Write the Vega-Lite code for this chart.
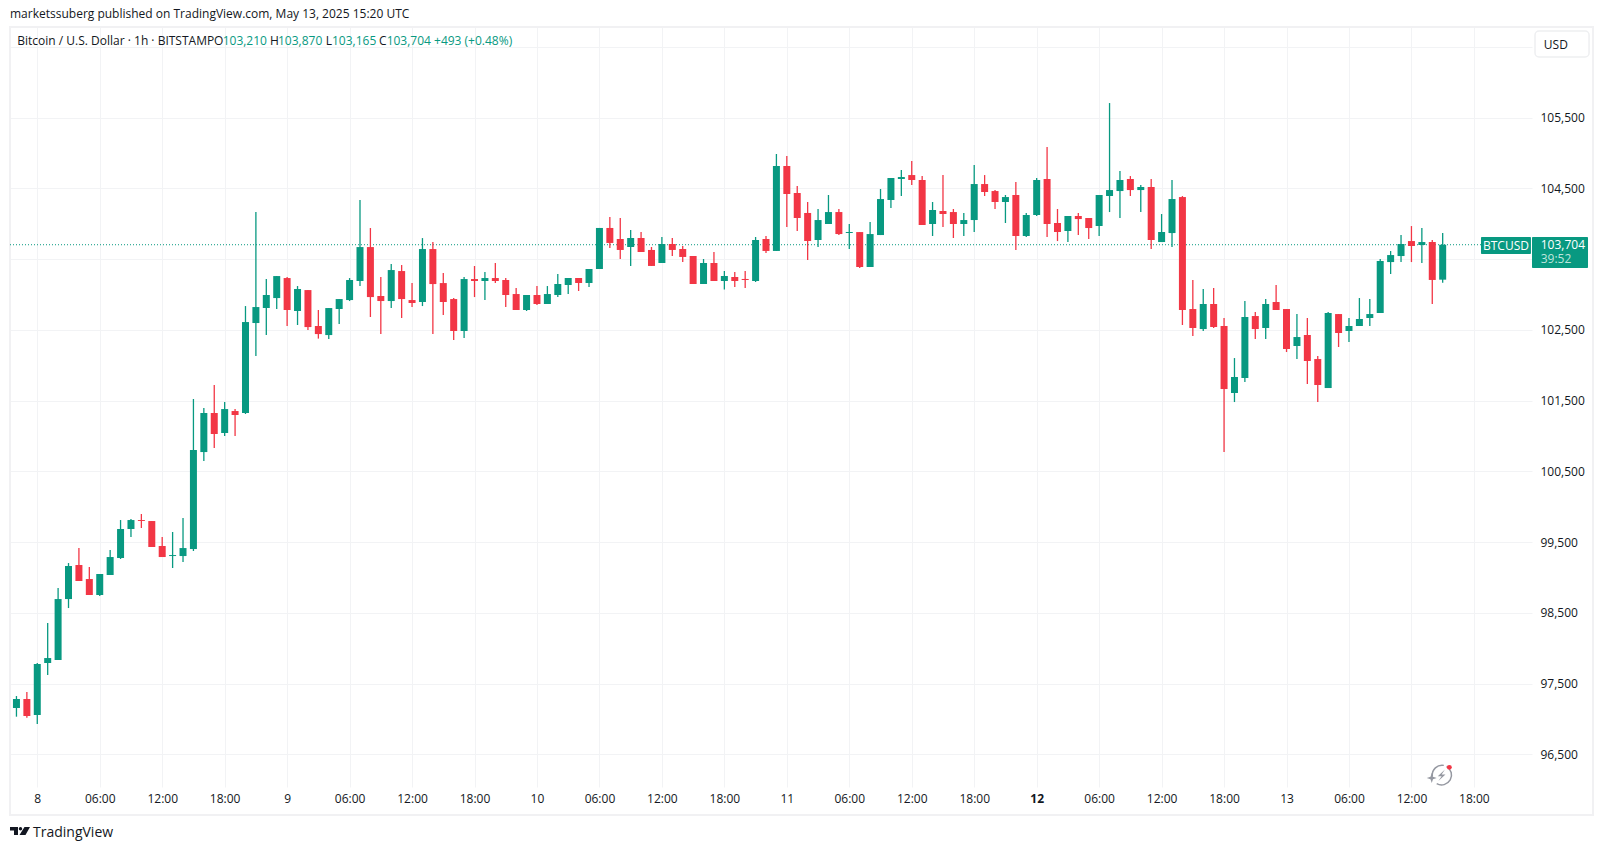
{
  "$schema": "https://vega.github.io/schema/vega-lite/v6.json",
  "background": "#ffffff",
  "width": 1522,
  "height": 760,
  "autosize": "none",
  "padding": {"left": 10, "top": 27, "right": 71, "bottom": 63},
  "config": {"view": {"stroke": null}, "text": {"font": "Open Sans", "fontSize": 12, "color": "#131722"}},
  "datasets": {
    "candles": [
      {"hour":-2,"o":97155,"h":97324,"l":97032,"c":97282},
      {"hour":-1,"o":97282,"h":97381,"l":97018,"c":97042},
      {"hour":0,"o":97056,"h":97791,"l":96928,"c":97777},
      {"hour":1,"o":97791,"h":98356,"l":97621,"c":97861},
      {"hour":2,"o":97833,"h":98851,"l":97833,"c":98695},
      {"hour":3,"o":98695,"h":99204,"l":98568,"c":99162},
      {"hour":4,"o":99176,"h":99416,"l":98950,"c":98950},
      {"hour":5,"o":98978,"h":99148,"l":98752,"c":98752},
      {"hour":6,"o":98752,"h":99049,"l":98738,"c":99049},
      {"hour":7,"o":99035,"h":99388,"l":99035,"c":99289},
      {"hour":8,"o":99275,"h":99812,"l":99261,"c":99685},
      {"hour":9,"o":99685,"h":99826,"l":99572,"c":99812},
      {"hour":10,"o":99812,"h":99897,"l":99699,"c":99798},
      {"hour":11,"o":99798,"h":99798,"l":99431,"c":99431},
      {"hour":12,"o":99445,"h":99572,"l":99289,"c":99289},
      {"hour":13,"o":99303,"h":99643,"l":99134,"c":99317},
      {"hour":14,"o":99303,"h":99840,"l":99218,"c":99416},
      {"hour":15,"o":99402,"h":101523,"l":99374,"c":100802},
      {"hour":16,"o":100773,"h":101395,"l":100646,"c":101325},
      {"hour":17,"o":101325,"h":101721,"l":100830,"c":101028},
      {"hour":18,"o":101042,"h":101480,"l":101000,"c":101381},
      {"hour":19,"o":101353,"h":101381,"l":101000,"c":101297},
      {"hour":20,"o":101325,"h":102837,"l":101311,"c":102611},
      {"hour":21,"o":102597,"h":104166,"l":102131,"c":102823},
      {"hour":22,"o":102809,"h":103219,"l":102427,"c":102993},
      {"hour":23,"o":102950,"h":103261,"l":102795,"c":103261},
      {"hour":24,"o":103233,"h":103247,"l":102555,"c":102781},
      {"hour":25,"o":102767,"h":103120,"l":102569,"c":103078},
      {"hour":26,"o":103063,"h":103063,"l":102498,"c":102540},
      {"hour":27,"o":102555,"h":102781,"l":102377,"c":102441},
      {"hour":28,"o":102427,"h":102809,"l":102371,"c":102809},
      {"hour":29,"o":102795,"h":102936,"l":102583,"c":102936},
      {"hour":30,"o":102922,"h":103233,"l":102908,"c":103205},
      {"hour":31,"o":103191,"h":104336,"l":103120,"c":103671},
      {"hour":32,"o":103671,"h":103940,"l":102682,"c":102964},
      {"hour":33,"o":102979,"h":103247,"l":102441,"c":102908},
      {"hour":34,"o":102908,"h":103431,"l":102809,"c":103346},
      {"hour":35,"o":103332,"h":103417,"l":102668,"c":102936},
      {"hour":36,"o":102922,"h":103162,"l":102823,"c":102880},
      {"hour":37,"o":102894,"h":103798,"l":102837,"c":103643},
      {"hour":38,"o":103643,"h":103742,"l":102441,"c":103148},
      {"hour":39,"o":103162,"h":103304,"l":102710,"c":102894},
      {"hour":40,"o":102936,"h":102950,"l":102357,"c":102484},
      {"hour":41,"o":102484,"h":103247,"l":102385,"c":103219},
      {"hour":42,"o":103219,"h":103403,"l":102964,"c":103191},
      {"hour":43,"o":103191,"h":103318,"l":102922,"c":103233},
      {"hour":44,"o":103233,"h":103445,"l":103162,"c":103191},
      {"hour":45,"o":103205,"h":103233,"l":102823,"c":102993},
      {"hour":46,"o":103007,"h":103092,"l":102781,"c":102781},
      {"hour":47,"o":102781,"h":102993,"l":102767,"c":102993},
      {"hour":48,"o":102993,"h":103120,"l":102852,"c":102866},
      {"hour":49,"o":102866,"h":103120,"l":102866,"c":103007},
      {"hour":50,"o":102993,"h":103290,"l":102965,"c":103149},
      {"hour":51,"o":103135,"h":103234,"l":103007,"c":103234},
      {"hour":52,"o":103234,"h":103234,"l":103050,"c":103163},
      {"hour":53,"o":103163,"h":103361,"l":103107,"c":103361},
      {"hour":54,"o":103361,"h":103941,"l":103361,"c":103941},
      {"hour":55,"o":103941,"h":104096,"l":103658,"c":103729},
      {"hour":56,"o":103785,"h":104082,"l":103502,"c":103630},
      {"hour":57,"o":103672,"h":103912,"l":103404,"c":103799},
      {"hour":58,"o":103799,"h":103884,"l":103601,"c":103601},
      {"hour":59,"o":103630,"h":103672,"l":103404,"c":103404},
      {"hour":60,"o":103446,"h":103813,"l":103446,"c":103714},
      {"hour":61,"o":103714,"h":103799,"l":103545,"c":103630},
      {"hour":62,"o":103644,"h":103686,"l":103460,"c":103531},
      {"hour":63,"o":103545,"h":103545,"l":103149,"c":103149},
      {"hour":64,"o":103149,"h":103502,"l":103149,"c":103446},
      {"hour":65,"o":103446,"h":103601,"l":103191,"c":103191},
      {"hour":66,"o":103191,"h":103333,"l":103071,"c":103262},
      {"hour":67,"o":103248,"h":103319,"l":103107,"c":103191},
      {"hour":68,"o":103220,"h":103333,"l":103092,"c":103205},
      {"hour":69,"o":103191,"h":103813,"l":103177,"c":103771},
      {"hour":70,"o":103785,"h":103828,"l":103587,"c":103616},
      {"hour":71,"o":103616,"h":104987,"l":103616,"c":104817},
      {"hour":72,"o":104817,"h":104958,"l":103955,"c":104421},
      {"hour":73,"o":104435,"h":104534,"l":103898,"c":104082},
      {"hour":74,"o":104153,"h":104308,"l":103488,"c":103757},
      {"hour":75,"o":103771,"h":104209,"l":103672,"c":104053},
      {"hour":76,"o":103997,"h":104407,"l":103997,"c":104166},
      {"hour":77,"o":104166,"h":104209,"l":103841,"c":103855},
      {"hour":78,"o":103870,"h":103997,"l":103643,"c":103884},
      {"hour":79,"o":103883,"h":103883,"l":103374,"c":103389},
      {"hour":80,"o":103389,"h":104025,"l":103389,"c":103855},
      {"hour":81,"o":103841,"h":104492,"l":103841,"c":104350},
      {"hour":82,"o":104336,"h":104647,"l":104223,"c":104647},
      {"hour":83,"o":104633,"h":104760,"l":104393,"c":104661},
      {"hour":84,"o":104689,"h":104887,"l":104548,"c":104619},
      {"hour":85,"o":104619,"h":104675,"l":103983,"c":103983},
      {"hour":86,"o":103997,"h":104308,"l":103827,"c":104195},
      {"hour":87,"o":104181,"h":104689,"l":103954,"c":104138},
      {"hour":88,"o":104166,"h":104209,"l":103799,"c":103997},
      {"hour":89,"o":103997,"h":104152,"l":103827,"c":104053},
      {"hour":90,"o":104053,"h":104831,"l":103884,"c":104562},
      {"hour":91,"o":104562,"h":104689,"l":104393,"c":104449},
      {"hour":92,"o":104463,"h":104477,"l":104209,"c":104308},
      {"hour":93,"o":104308,"h":104407,"l":104011,"c":104378},
      {"hour":94,"o":104407,"h":104590,"l":103629,"c":103827},
      {"hour":95,"o":103827,"h":104152,"l":103813,"c":104124},
      {"hour":96,"o":104124,"h":104647,"l":104110,"c":104619},
      {"hour":97,"o":104633,"h":105085,"l":103813,"c":103997},
      {"hour":98,"o":104011,"h":104209,"l":103756,"c":103884},
      {"hour":99,"o":103898,"h":104110,"l":103742,"c":104110},
      {"hour":100,"o":104110,"h":104152,"l":103841,"c":104067},
      {"hour":101,"o":104082,"h":104082,"l":103785,"c":103940},
      {"hour":102,"o":103969,"h":104407,"l":103827,"c":104407},
      {"hour":103,"o":104393,"h":105707,"l":104166,"c":104477},
      {"hour":104,"o":104463,"h":104746,"l":104082,"c":104619},
      {"hour":105,"o":104633,"h":104675,"l":104393,"c":104477},
      {"hour":106,"o":104477,"h":104548,"l":104166,"c":104520},
      {"hour":107,"o":104520,"h":104633,"l":103643,"c":103771},
      {"hour":108,"o":103742,"h":104138,"l":103742,"c":103884},
      {"hour":109,"o":103869,"h":104619,"l":103672,"c":104350},
      {"hour":110,"o":104378,"h":104392,"l":102569,"c":102781},
      {"hour":111,"o":102795,"h":103205,"l":102413,"c":102527},
      {"hour":112,"o":102512,"h":103078,"l":102484,"c":102866},
      {"hour":113,"o":102866,"h":103092,"l":102527,"c":102541},
      {"hour":114,"o":102555,"h":102668,"l":100773,"c":101664},
      {"hour":115,"o":101608,"h":102102,"l":101480,"c":101834},
      {"hour":116,"o":101820,"h":102908,"l":101763,"c":102682},
      {"hour":117,"o":102696,"h":102753,"l":102371,"c":102512},
      {"hour":118,"o":102527,"h":102936,"l":102371,"c":102866},
      {"hour":119,"o":102894,"h":103134,"l":102781,"c":102781},
      {"hour":120,"o":102795,"h":102795,"l":102187,"c":102230},
      {"hour":121,"o":102272,"h":102724,"l":102088,"c":102399},
      {"hour":122,"o":102428,"h":102668,"l":101735,"c":102060},
      {"hour":123,"o":102088,"h":102131,"l":101480,"c":101721},
      {"hour":124,"o":101678,"h":102753,"l":101678,"c":102739},
      {"hour":125,"o":102724,"h":102724,"l":102258,"c":102456},
      {"hour":126,"o":102484,"h":102668,"l":102329,"c":102555},
      {"hour":127,"o":102555,"h":102951,"l":102555,"c":102654},
      {"hour":128,"o":102668,"h":102936,"l":102555,"c":102724},
      {"hour":129,"o":102739,"h":103502,"l":102739,"c":103474},
      {"hour":130,"o":103459,"h":103615,"l":103290,"c":103558},
      {"hour":131,"o":103544,"h":103841,"l":103459,"c":103714},
      {"hour":132,"o":103756,"h":103968,"l":103459,"c":103686},
      {"hour":133,"o":103700,"h":103940,"l":103445,"c":103742},
      {"hour":134,"o":103743,"h":103771,"l":102866,"c":103206},
      {"hour":135,"o":103210,"h":103870,"l":103165,"c":103704}
    ],
    "one": [{"n": 1}]
  },
  "data": {"name": "one"},
  "layer": [
    {
      "data": {"name": "candles"},
      "mark": {"type": "rule", "strokeOpacity": 0},
      "encoding": {
        "x": {
          "field": "hour",
          "type": "quantitative",
          "title": null,
          "scale": {"domain": [-2.62, 143.58], "nice": false, "zero": false, "padding": 0},
          "axis": {
            "orient": "bottom",
            "values": [0, 6, 12, 18, 24, 30, 36, 42, 48, 54, 60, 66, 72, 78, 84, 90, 96, 102, 108, 114, 120, 126, 132, 138],
            "domain": false,
            "ticks": false,
            "grid": true,
            "gridColor": "#f2f3f5",
            "gridWidth": 1,
            "labelPadding": 6,
            "labelFont": "Open Sans",
            "labelFontSize": 12,
            "labelColor": "#131722",
            "labelOverlap": false,
            "labelFlush": false,
            "labelFontWeight": {"condition": {"test": "datum.value == 96", "value": "bold"}, "value": "normal"},
            "labelExpr": "datum.value % 24 == 0 ? '' + (8 + datum.value / 24) : (datum.value % 24 < 10 ? '0' : '') + (datum.value % 24) + ':00'"
          }
        },
        "y": {
          "field": "l",
          "type": "quantitative",
          "title": null,
          "scale": {"domain": [96038, 106782], "nice": false, "zero": false},
          "axis": {
            "orient": "right",
            "values": [96500, 97000, 97500, 98000, 98500, 99000, 99500, 100000, 100500, 101000, 101500, 102000, 102500, 103000, 103500, 104000, 104500, 105000, 105500, 106000, 106500],
            "domain": false,
            "ticks": false,
            "grid": true,
            "gridColor": "#f2f3f5",
            "gridWidth": 1,
            "labelPadding": 8,
            "labelFont": "Open Sans",
            "labelFontSize": 12,
            "labelColor": "#131722",
            "labelOverlap": false,
            "labelFlush": false,
            "labelExpr": "datum.value == 103500 || datum.value == 106500 ? '' : format(datum.value, ',')"
          }
        }
      }
    },
    {
      "mark": {"type": "rect", "fillOpacity": 0, "stroke": "#f1f1f3", "strokeWidth": 2},
      "encoding": {
        "x": {"datum": -2.62, "type": "quantitative"},
        "x2": {"datum": 149.44},
        "y": {"datum": 106782, "type": "quantitative"},
        "y2": {"datum": 95642}
      }
    },
    {
      "mark": {"type": "rule", "color": "#089981", "strokeWidth": 1, "strokeDash": [1, 2]},
      "encoding": {
        "x": {"datum": -2.62, "type": "quantitative"},
        "x2": {"datum": 138.68},
        "y": {"datum": 103704, "type": "quantitative"}
      }
    },
    {
      "data": {"name": "candles"},
      "mark": {"type": "rule", "strokeWidth": 1.3},
      "encoding": {
        "x": {"field": "hour", "type": "quantitative"},
        "y": {"field": "l", "type": "quantitative"},
        "y2": {"field": "h"},
        "color": {"condition": {"test": "datum.c >= datum.o", "value": "#089981"}, "value": "#f23645"}
      }
    },
    {
      "data": {"name": "candles"},
      "mark": {"type": "bar", "size": 7},
      "encoding": {
        "x": {"field": "hour", "type": "quantitative"},
        "y": {"field": "o", "type": "quantitative"},
        "y2": {"field": "c"},
        "color": {"condition": {"test": "datum.c >= datum.o", "value": "#089981"}, "value": "#f23645"}
      }
    },
    {
      "mark": {"type": "rect", "fill": "#089981", "cornerRadius": 1},
      "encoding": {
        "x": {"datum": 138.68, "type": "quantitative"},
        "x2": {"datum": 143.48},
        "y": {"datum": 103813, "type": "quantitative"},
        "y2": {"datum": 103573}
      }
    },
    {
      "mark": {"type": "rect", "fill": "#089981", "cornerRadius": 1},
      "encoding": {
        "x": {"datum": 143.58, "type": "quantitative"},
        "x2": {"datum": 148.96},
        "y": {"datum": 103813, "type": "quantitative"},
        "y2": {"datum": 103375}
      }
    },
    {
      "mark": {"type": "rect", "fill": "#ffffff", "stroke": "#eeeff1", "strokeWidth": 1.5, "cornerRadius": 4},
      "encoding": {
        "x": {"datum": 143.87, "type": "quantitative"},
        "x2": {"datum": 149.06},
        "y": {"datum": 106725, "type": "quantitative"},
        "y2": {"datum": 106358}
      }
    },
    {
      "mark": {"type": "text", "text": "USD", "align": "left", "baseline": "middle"},
      "encoding": {"x": {"datum": 144.72, "type": "quantitative"}, "y": {"datum": 106534, "type": "quantitative"}}
    },
    {
      "mark": {"type": "text", "text": "BTCUSD", "align": "center", "baseline": "middle", "color": "#ffffff"},
      "encoding": {"x": {"datum": 141.08, "type": "quantitative"}, "y": {"datum": 103693, "type": "quantitative"}}
    },
    {
      "mark": {"type": "text", "text": "103,704", "align": "left", "baseline": "middle", "color": "#ffffff"},
      "encoding": {"x": {"datum": 144.42, "type": "quantitative"}, "y": {"datum": 103700, "type": "quantitative"}}
    },
    {
      "mark": {"type": "text", "text": "39:52", "align": "left", "baseline": "middle", "color": "#bfe5dd"},
      "encoding": {"x": {"datum": 144.42, "type": "quantitative"}, "y": {"datum": 103506, "type": "quantitative"}}
    },
    {
      "mark": {"type": "text", "text": "marketssuberg published on TradingView.com, May 13, 2025 15:20 UTC", "align": "left", "baseline": "middle"},
      "encoding": {"x": {"datum": -2.62, "type": "quantitative"}, "y": {"datum": 106966, "type": "quantitative"}}
    },
    {
      "mark": {"type": "text", "text": "Bitcoin / U.S. Dollar · 1h · BITSTAMP", "align": "left", "baseline": "middle"},
      "encoding": {"x": {"datum": -1.92, "type": "quantitative"}, "y": {"datum": 106584, "type": "quantitative"}}
    },
    {
      "mark": {"type": "text", "text": "O", "align": "left", "baseline": "middle"},
      "encoding": {"x": {"datum": 16.97, "type": "quantitative"}, "y": {"datum": 106584, "type": "quantitative"}}
    },
    {
      "mark": {"type": "text", "text": "103,210", "align": "left", "baseline": "middle", "color": "#089981"},
      "encoding": {"x": {"datum": 17.81, "type": "quantitative"}, "y": {"datum": 106584, "type": "quantitative"}}
    },
    {
      "mark": {"type": "text", "text": "H", "align": "left", "baseline": "middle"},
      "encoding": {"x": {"datum": 22.35, "type": "quantitative"}, "y": {"datum": 106584, "type": "quantitative"}}
    },
    {
      "mark": {"type": "text", "text": "103,870", "align": "left", "baseline": "middle", "color": "#089981"},
      "encoding": {"x": {"datum": 23.12, "type": "quantitative"}, "y": {"datum": 106584, "type": "quantitative"}}
    },
    {
      "mark": {"type": "text", "text": "L", "align": "left", "baseline": "middle"},
      "encoding": {"x": {"datum": 27.7, "type": "quantitative"}, "y": {"datum": 106584, "type": "quantitative"}}
    },
    {
      "mark": {"type": "text", "text": "103,165", "align": "left", "baseline": "middle", "color": "#089981"},
      "encoding": {"x": {"datum": 28.31, "type": "quantitative"}, "y": {"datum": 106584, "type": "quantitative"}}
    },
    {
      "mark": {"type": "text", "text": "C", "align": "left", "baseline": "middle"},
      "encoding": {"x": {"datum": 32.82, "type": "quantitative"}, "y": {"datum": 106584, "type": "quantitative"}}
    },
    {
      "mark": {"type": "text", "text": "103,704", "align": "left", "baseline": "middle", "color": "#089981"},
      "encoding": {"x": {"datum": 33.56, "type": "quantitative"}, "y": {"datum": 106584, "type": "quantitative"}}
    },
    {
      "mark": {"type": "text", "text": "+493 (+0.48%)", "align": "left", "baseline": "middle", "color": "#089981"},
      "encoding": {"x": {"datum": 38.11, "type": "quantitative"}, "y": {"datum": 106584, "type": "quantitative"}}
    },
    {
      "mark": {"type": "text", "text": "TradingView", "align": "left", "baseline": "middle", "fontSize": 14},
      "encoding": {"x": {"datum": -0.41, "type": "quantitative"}, "y": {"datum": 95387, "type": "quantitative"}}
    },
    {
      "mark": {"type": "point", "filled": true, "size": 400, "opacity": 1, "color": "#131722", "shape": "M-1 -0.4H-0.2V0.4H-0.6V-0.05H-1ZM0.22 -0.22A0.17 0.17 0 1 1 -0.12 -0.22A0.17 0.17 0 1 1 0.22 -0.22ZM0.45 -0.4H1L0.55 0.4H-0.05Z"},
      "encoding": {"x": {"datum": -1.66, "type": "quantitative"}, "y": {"datum": 95416, "type": "quantitative"}}
    },
    {
      "mark": {"type": "point", "filled": false, "size": 484, "opacity": 1, "stroke": "#9598a1", "strokeWidth": 1.5, "shape": "M0.45 -0.78A0.9 0.9 0 0 1 -0.45 0.78M-0.85 0.1A0.9 0.9 0 0 1 0.2 -0.88"},
      "encoding": {"x": {"datum": 134.9, "type": "quantitative"}, "y": {"datum": 96207, "type": "quantitative"}}
    },
    {
      "mark": {"type": "point", "filled": true, "size": 484, "opacity": 1, "color": "#9598a1", "shape": "M0.3 -0.5L-0.35 0.1H0L-0.3 0.55L0.35 -0.05H0Z"},
      "encoding": {"x": {"datum": 134.9, "type": "quantitative"}, "y": {"datum": 96207, "type": "quantitative"}}
    },
    {
      "mark": {"type": "point", "filled": true, "size": 100, "opacity": 1, "color": "#9598a1", "shape": "M0 -1L0.25 -0.25L1 0L0.25 0.25L0 1L-0.25 0.25L-1 0L-0.25 -0.25Z"},
      "encoding": {"x": {"datum": 133.95, "type": "quantitative"}, "y": {"datum": 96165, "type": "quantitative"}}
    },
    {
      "mark": {"type": "point", "filled": true, "size": 24, "opacity": 1, "color": "#f23645", "shape": "circle"},
      "encoding": {"x": {"datum": 135.64, "type": "quantitative"}, "y": {"datum": 96316, "type": "quantitative"}}
    }
  ]
}
